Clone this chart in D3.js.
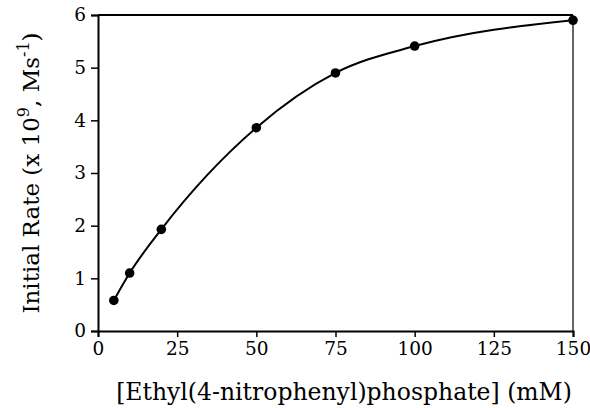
<!DOCTYPE html>
<html>
<head>
<meta charset="utf-8">
<script src="https://cdn.jsdelivr.net/npm/d3@7"></script>
<style>
  body { margin: 0; background: #fff; }
  svg text { font-family: "DejaVu Serif", "Liberation Serif", serif; fill: #000; }
</style>
</head>
<body>
<svg width="590" height="408"></svg>
<script>
// substrate concentration (mM) and initial rate (x 10^9 M/s)
const concentration = [5, 10, 20, 50, 75, 100, 150];
const initialRate = [0.58, 1.1, 1.93, 3.86, 4.9, 5.41, 5.9];
const xTicks = [0, 25, 50, 75, 100, 125, 150];
const yTicks = [0, 1, 2, 3, 4, 5, 6];

const svg = d3.select("svg");
const plotL = 98, plotR = 573, plotT = 15, plotB = 331;

const x = d3.scaleLinear().domain([0, 150]).range([plotL, plotR]);
const y = d3.scaleLinear().domain([0, 6]).range([plotB, plotT]);

// frame: top and right lines
svg.append("line")
  .attr("x1", plotL).attr("x2", plotR).attr("y1", plotT).attr("y2", plotT)
  .attr("stroke", "#000").attr("stroke-width", 2);
svg.append("line")
  .attr("x1", plotR).attr("x2", plotR).attr("y1", plotT).attr("y2", plotB)
  .attr("stroke", "#000").attr("stroke-width", 1.2);

const xAxis = svg.append("g")
  .attr("transform", `translate(0,${plotB})`)
  .call(d3.axisBottom(x).tickValues(xTicks).tickFormat(d3.format("d")).tickSize(6).tickPadding(5));
const yAxis = svg.append("g")
  .attr("transform", `translate(${plotL},0)`)
  .call(d3.axisLeft(y).tickValues(yTicks).tickFormat(d3.format("d")).tickSize(7).tickPadding(5));

[xAxis, yAxis].forEach(g => {
  g.attr("font-family", null).attr("font-size", null);
  g.select(".domain").attr("stroke-width", 2);
  g.selectAll(".tick line").attr("stroke-width", 1.5);
  g.selectAll(".tick text").style("font-size", "18.5px");
});

// fitted curve through the points
const line = d3.line()
  .x((d, i) => x(concentration[i]))
  .y(d => y(d))
  .curve(d3.curveMonotoneX);

svg.append("path")
  .datum(initialRate)
  .attr("d", line)
  .attr("fill", "none")
  .attr("stroke", "#000")
  .attr("stroke-width", 2);

svg.selectAll("circle.pt")
  .data(initialRate)
  .join("circle")
  .attr("class", "pt")
  .attr("cx", (d, i) => x(concentration[i]))
  .attr("cy", d => y(d))
  .attr("r", 4.8)
  .attr("fill", "#000");

// axis titles
svg.append("text")
  .attr("x", 344)
  .attr("y", 400)
  .attr("text-anchor", "middle")
  .style("font-size", "23.5px")
  .text("[Ethyl(4-nitrophenyl)phosphate] (mM)");

const yt = svg.append("text")
  .attr("transform", "translate(39,173) rotate(-90)")
  .attr("text-anchor", "middle")
  .style("font-size", "23px");
yt.append("tspan").text("Initial Rate (x 10");
yt.append("tspan").attr("dy", -10).style("font-size", "16px").text("9");
yt.append("tspan").attr("dy", 10).text(", Ms");
yt.append("tspan").attr("dy", -10).style("font-size", "16px").text("-1");
yt.append("tspan").attr("dy", 10).text(")");
</script>
</body>
</html>
